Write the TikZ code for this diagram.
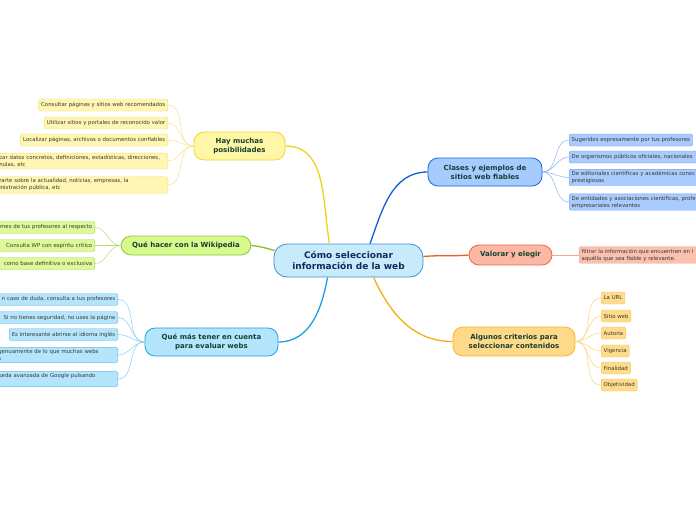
\documentclass[tikz,border=0pt]{standalone}
\usepackage{fontspec}
\setmainfont{DejaVu Sans}

\definecolor{paper}{HTML}{FFFFFF}
\definecolor{rootF}{HTML}{C8EBFB}
\definecolor{rootD}{HTML}{3C93D6}
\definecolor{rootT}{HTML}{12295A}
\definecolor{topT}{HTML}{173F30}
\definecolor{leafT}{HTML}{3A3A30}
% yellow branch
\definecolor{ylwF}{HTML}{FFF6A6}
\definecolor{ylwD}{HTML}{F1D52A}
\definecolor{ylwP}{HTML}{FFF6B3}
\definecolor{ylwL}{HTML}{F4DF6C}
\definecolor{ylwE}{HTML}{F2D21C}
\definecolor{ylwT}{HTML}{F5E48C}
% green branch
\definecolor{grnF}{HTML}{D8F98C}
\definecolor{grnD}{HTML}{8CC63C}
\definecolor{grnP}{HTML}{DDF99A}
\definecolor{grnL}{HTML}{A6D65A}
\definecolor{grnE}{HTML}{8DBA28}
\definecolor{grnT}{HTML}{B8DC74}
% light blue branch
\definecolor{skyF}{HTML}{B3E5FC}
\definecolor{skyD}{HTML}{1FA3E3}
\definecolor{skyP}{HTML}{B5E5FC}
\definecolor{skyL}{HTML}{5EC0EE}
\definecolor{skyE}{HTML}{1EA0E0}
\definecolor{skyT}{HTML}{86CEF2}
% blue branch
\definecolor{bluF}{HTML}{A6CBFF}
\definecolor{bluD}{HTML}{1E66D6}
\definecolor{bluP}{HTML}{A9CBFD}
\definecolor{bluL}{HTML}{6FA1EE}
\definecolor{bluE}{HTML}{1060D6}
\definecolor{bluT}{HTML}{8DB2F0}
% salmon branch
\definecolor{redF}{HTML}{FBB8A5}
\definecolor{redD}{HTML}{EF6541}
\definecolor{redP}{HTML}{FCC0AE}
\definecolor{redL}{HTML}{F49B80}
\definecolor{redE}{HTML}{EE5B2B}
\definecolor{redT}{HTML}{F5A891}
% orange branch
\definecolor{orgF}{HTML}{FFD98A}
\definecolor{orgD}{HTML}{F6B624}
\definecolor{orgP}{HTML}{FFDC8C}
\definecolor{orgL}{HTML}{F9C455}
\definecolor{orgE}{HTML}{F5AF12}
\definecolor{orgT}{HTML}{FAD27E}

\tikzset{
  root/.style={draw=rootD, fill=rootF, line width=0.8pt, rounded corners=13pt,
    align=center, font=\fontsize{9}{10.6}\selectfont\bfseries, text=rootT,
    minimum width=149pt, minimum height=33pt},
  topic/.style={line width=0.8pt, rounded corners=10pt, align=center,
    font=\fontsize{7}{8.8}\selectfont\bfseries, text=topT, inner ysep=2pt},
  leaf/.style={line width=0.45pt, rounded corners=2pt,
    font=\fontsize{5.4}{7}\selectfont, text=leafT,
    inner xsep=2.5pt, inner ysep=2pt, minimum height=12pt},
  branch/.style={line width=1.3pt},
  twig/.style={line width=0.5pt}
}

\begin{document}
\begin{tikzpicture}[x=1pt,y=1pt]
\useasboundingbox (0,0) rectangle (696,-520);
\fill [paper] (0,0) rectangle (696,-520);
\clip (0,0) rectangle (696,-520);

% centre and topics
\node [root] (central) at (348.5,-260.5) {Cómo seleccionar\\información de la web};
\node [topic, draw=ylwD, fill=ylwF, minimum width=91pt, minimum height=28pt] (hay) at (239.5,-146) {Hay muchas\\posibilidades};
\node [topic, draw=grnD, fill=grnF, minimum width=130pt, minimum height=19pt] (wiki) at (186,-245.5) {Qué hacer con la Wikipedia};
\node [topic, draw=skyD, fill=skyF, minimum width=133pt, minimum height=28pt] (quemas) at (211.5,-342) {Qué más tener en cuenta\\para evaluar webs};
\node [topic, draw=bluD, fill=bluF, minimum width=114pt, minimum height=28pt] (clases) at (485,-172) {Clases y ejemplos de\\sitios web fiables};
\node [topic, draw=redD, fill=redF, minimum width=83pt, minimum height=20pt] (valorar) at (510.5,-255) {Valorar y elegir};
\node [topic, draw=orgD, fill=orgF, minimum width=122pt, minimum height=29pt] (criterios) at (514,-341.5) {Algunos criterios para\\seleccionar contenidos};

% yellow leaves
\node [leaf, draw=ylwL, fill=ylwP, anchor=east] (hay1) at (168,-105) {Consultar páginas y sitios web recomendados};
\node [leaf, draw=ylwL, fill=ylwP, anchor=east] (hay2) at (168,-123) {Utilizar sitios y portales de reconocido valor};
\node [leaf, draw=ylwL, fill=ylwP, anchor=east] (hay3) at (168,-140) {Localizar páginas, archivos o documentos confiables};
\node [leaf, draw=ylwL, fill=ylwP, anchor=east, text width=166pt, align=left] (hay4) at (168,-161) {car datos concretos, definiciones, estadísticas, direcciones,\\nulas, etc};
\node [leaf, draw=ylwL, fill=ylwP, anchor=east, text width=166pt, align=left] (hay5) at (168,-185) {rarte sobre la actualidad, noticias, empresas, la\\inistración pública, etc};

% green leaves
\node [leaf, draw=grnL, fill=grnP, anchor=east, text width=94pt, align=right] (wiki1) at (95,-227.5) {mes de tus profesores al respecto};
\node [leaf, draw=grnL, fill=grnP, anchor=east, text width=94pt, align=right] (wiki2) at (95,-245.5) {Consulta WP con espíritu crítico};
\node [leaf, draw=grnL, fill=grnP, anchor=east, text width=94pt, align=right] (wiki3) at (95,-263.5) {como base definitiva o exclusiva};

% light blue leaves
\node [leaf, draw=skyL, fill=skyP, anchor=east, text width=117pt, align=right] (quemas1) at (118,-299.5) {n caso de duda, consulta a tus profesores};
\node [leaf, draw=skyL, fill=skyP, anchor=east, text width=117pt, align=right] (quemas2) at (118,-317.5) {Si no tienes seguridad, no uses la página};
\node [leaf, draw=skyL, fill=skyP, anchor=east] (quemas3) at (118,-334.5) {Es interesante abrirse al idioma inglés};
\node [leaf, draw=skyL, fill=skyP, anchor=east, text width=117pt, align=left] (quemas4) at (118,-355) {genuamente de lo que muchas webs\\s};
\node [leaf, draw=skyL, fill=skyP, anchor=east, text width=117pt, align=left] (quemas5) at (118,-379) {ueda avanzada de Google pulsando\\\mbox{}};

% blue leaves
\node [leaf, draw=bluL, fill=bluP, anchor=west] (clases1) at (569,-140) {Sugeridos expresamente por tus profesores};
\node [leaf, draw=bluL, fill=bluP, anchor=west, text width=150pt, align=left] (clases2) at (569,-157) {De organismos públicos oficiales, nacionales};
\node [leaf, draw=bluL, fill=bluP, anchor=west, text width=150pt, align=left] (clases3) at (569,-177.5) {De editoriales científicas y académicas conoc\\prestigiosas};
\node [leaf, draw=bluL, fill=bluP, anchor=west, text width=150pt, align=left] (clases4) at (569,-202) {De entidades y asociaciones científicas, profe\\empresariales relevantes};

% salmon leaf
\node [leaf, draw=redL, fill=redP, anchor=west, text width=150pt, align=left] (valorar1) at (579,-255) {filtrar la información que encuentren en l\\aquélla que sea fiable y relevante.};

% orange leaves
\node [leaf, draw=orgL, fill=orgP, anchor=west] (criterios1) at (601,-298) {La URL};
\node [leaf, draw=orgL, fill=orgP, anchor=west] (criterios2) at (601,-316) {Sitio web};
\node [leaf, draw=orgL, fill=orgP, anchor=west] (criterios3) at (601,-333) {Autoría};
\node [leaf, draw=orgL, fill=orgP, anchor=west] (criterios4) at (601,-351) {Vigencia};
\node [leaf, draw=orgL, fill=orgP, anchor=west] (criterios5) at (601,-368) {Finalidad};
\node [leaf, draw=orgL, fill=orgP, anchor=west] (criterios6) at (601,-385) {Objetividad};

% branches
\draw [branch, ylwE] ([xshift=-19pt]central.north) to [out=100,in=0] (hay.east);
\draw [branch, grnE] ([xshift=1pt,yshift=10pt]central.west) to [out=165,in=-5] (wiki.east);
\draw [branch, skyE] ([xshift=-21pt]central.south) to [out=-100,in=0] (quemas.east);
\draw [branch, bluE] ([xshift=21.5pt]central.north) to [out=70,in=180] (clases.west);
\draw [branch, redE] ([yshift=4pt]central.east) to [out=5,in=185] (valorar.west);
\draw [branch, orgE] ([xshift=25pt]central.south) to [out=-65,in=180] (criterios.west);

% twigs
\draw [twig, ylwT] (hay.west) to [out=180,in=0] (hay1.east);
\draw [twig, ylwT] (hay.west) to [out=180,in=0] (hay2.east);
\draw [twig, ylwT] (hay.west) to [out=180,in=0] (hay3.east);
\draw [twig, ylwT] (hay.west) to [out=180,in=0] (hay4.east);
\draw [twig, ylwT] (hay.west) to [out=180,in=0] (hay5.east);
\draw [twig, grnT] (wiki.west) to [out=180,in=0] (wiki1.east);
\draw [twig, grnT] (wiki.west) to [out=180,in=0] (wiki2.east);
\draw [twig, grnT] (wiki.west) to [out=180,in=0] (wiki3.east);
\draw [twig, skyT] (quemas.west) to [out=180,in=0] (quemas1.east);
\draw [twig, skyT] (quemas.west) to [out=180,in=0] (quemas2.east);
\draw [twig, skyT] (quemas.west) to [out=180,in=0] (quemas3.east);
\draw [twig, skyT] (quemas.west) to [out=180,in=0] (quemas4.east);
\draw [twig, skyT] (quemas.west) to [out=180,in=0] (quemas5.east);
\draw [twig, bluT] (clases.east) to [out=0,in=180] (clases1.west);
\draw [twig, bluT] (clases.east) to [out=0,in=180] (clases2.west);
\draw [twig, bluT] (clases.east) to [out=0,in=180] (clases3.west);
\draw [twig, bluT] (clases.east) to [out=0,in=180] (clases4.west);
\draw [twig, redT] (valorar.east) -- (valorar1.west);
\draw [twig, orgT] (criterios.east) to [out=0,in=180] (criterios1.west);
\draw [twig, orgT] (criterios.east) to [out=0,in=180] (criterios2.west);
\draw [twig, orgT] (criterios.east) to [out=0,in=180] (criterios3.west);
\draw [twig, orgT] (criterios.east) to [out=0,in=180] (criterios4.west);
\draw [twig, orgT] (criterios.east) to [out=0,in=180] (criterios5.west);
\draw [twig, orgT] (criterios.east) to [out=0,in=180] (criterios6.west);

\end{tikzpicture}
\end{document}
